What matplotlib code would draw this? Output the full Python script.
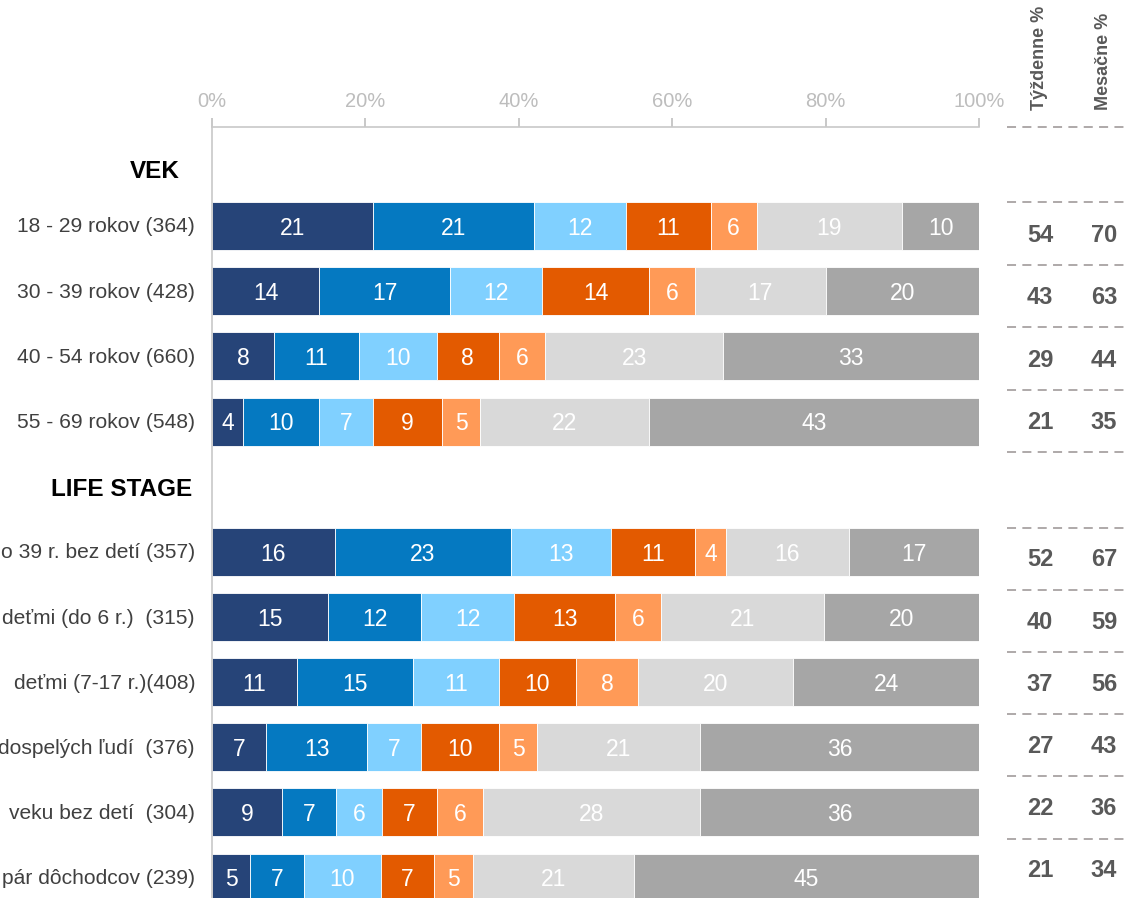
import matplotlib
matplotlib.use("Agg")
import matplotlib.pyplot as plt
import numpy as np

plt.rcParams["font.family"] = ["Liberation Sans", "DejaVu Sans"]

# ── data ──────────────────────────────────────────────────────────────────────

# the reference picture is cropped at its left edge: the labels below are
# the parts of the life-stage labels that are visible there
age_labels = ["18 - 29 rokov (364)", "30 - 39 rokov (428)",
              "40 - 54 rokov (660)", "55 - 69 rokov (548)"]
life_labels = ["o 39 r. bez detí (357)",
               "deťmi (do 6 r.)  (315)",
               "deťmi (7-17 r.)(408)",
               "dospelých ľudí  (376)",
               "veku bez detí  (304)",
               "pár dôchodcov (239)"]

age_values = [
    [21, 21, 12, 11, 6, 19, 10],
    [14, 17, 12, 14, 6, 17, 20],
    [8, 11, 10, 8, 6, 23, 33],
    [4, 10, 7, 9, 5, 22, 43],
]
life_values = [
    [16, 23, 13, 11, 4, 16, 17],
    [15, 12, 12, 13, 6, 21, 20],
    [11, 15, 11, 10, 8, 20, 24],
    [7, 13, 7, 10, 5, 21, 36],
    [9, 7, 6, 7, 6, 28, 36],
    [5, 7, 10, 7, 5, 21, 45],
]

age_weekly = [54, 43, 29, 21]
age_monthly = [70, 63, 44, 35]
life_weekly = [52, 40, 37, 27, 22, 21]
life_monthly = [67, 59, 56, 43, 36, 34]

col_headers = ["Týždenne %", "Mesačne %"]
x_ticks = [0, 20, 40, 60, 80, 100]

COLORS = ["#264478", "#0579c1", "#80d0ff", "#e35a00", "#ff9a57", "#d9d9d9", "#a6a6a6"]

# ── layout (pixels) ───────────────────────────────────────────────────────────

W, H = 1127, 898
X0, X1 = 212, 979          # 0% and 100%
Y_AXIS = 127               # top axis line
BAR_H = 48

age_y = [226 + 65.2 * k for k in range(len(age_labels))]
life_y = [552 + 65.1 * k for k in range(len(life_labels))]

fig = plt.figure(figsize=(W / 100, H / 100), dpi=100)
fig.patch.set_facecolor("white")

ax = fig.add_axes([X0 / W, 0, (X1 - X0) / W, (H - Y_AXIS) / H])
ax.set_xlim(0, 100)
ax.set_ylim(H, Y_AXIS)

for ys, vals in ((age_y, age_values), (life_y, life_values)):
    for y, row in zip(ys, vals):
        row = np.array(row, dtype=float)
        widths = row / row.sum() * 100
        left = 0.0
        for k, (w, v) in enumerate(zip(widths, row)):
            ax.barh(y, w, left=left, height=BAR_H, color=COLORS[k],
                    edgecolor="white", linewidth=0.6)
            ax.text(left + w / 2, y + 2, f"{int(v)}", ha="center", va="center",
                    color="white", fontsize=16.5)
            left += w

ax.xaxis.tick_top()
ax.set_xticks(x_ticks)
ax.set_xticklabels([f"{t}%" for t in x_ticks])
ax.tick_params(axis="x", colors="#bfbfbf", length=6.5, width=1.2, pad=5,
               labelsize=14.5, labelcolor="#bdbdbd")
ax.set_yticks([])
for s in ("right", "bottom"):
    ax.spines[s].set_visible(False)
for s in ("top", "left"):
    ax.spines[s].set_color("#c8c8c8")
    ax.spines[s].set_linewidth(1.2)

# ── overlay in pixel coordinates: labels and right-hand table ────────────────

ov = fig.add_axes([0, 0, 1, 1], facecolor="none")
ov.set_xlim(0, W)
ov.set_ylim(H, 0)
ov.axis("off")

ov.text(180, 172, "VEK", ha="right", va="center", fontsize=17.5,
        fontweight="bold", color="black")
ov.text(192, 489, "LIFE STAGE", ha="right", va="center", fontsize=17.5,
        fontweight="bold", color="black")

for y, lab in zip(age_y + life_y, age_labels + life_labels):
    ov.text(195, y + 1, lab, ha="right", va="center", fontsize=15.1, color="#404040")

COL_X = [1040, 1104]
for x, head in zip(COL_X, col_headers):
    ov.text(x, 110, head, rotation=90, ha="center", va="bottom",
            fontsize=13, fontweight="bold", color="#595959")

age_dash = [Y_AXIS] + [202 + 62.5 * k for k in range(len(age_labels) + 1)]
life_dash = [528 + 62.1 * k for k in range(len(life_labels))]
for y in age_dash + life_dash:
    ov.plot([1007, W], [y, y], color="#a8a2a2", lw=1.3, ls=(0, (5, 3.5)))

age_rows_y = [(age_dash[k + 1] + age_dash[k + 2]) / 2 + 2 for k in range(len(age_labels))]
life_rows_y = [life_dash[k] + 32 for k in range(len(life_labels))]
for ys, wk, mo in ((age_rows_y, age_weekly, age_monthly),
                   (life_rows_y, life_weekly, life_monthly)):
    for y, a, b in zip(ys, wk, mo):
        ov.text(COL_X[0], y, str(a), ha="center", va="center", fontsize=17,
                fontweight="bold", color="#595959")
        ov.text(COL_X[1], y, str(b), ha="center", va="center", fontsize=17,
                fontweight="bold", color="#595959")

fig.savefig("out.png", dpi=100)
